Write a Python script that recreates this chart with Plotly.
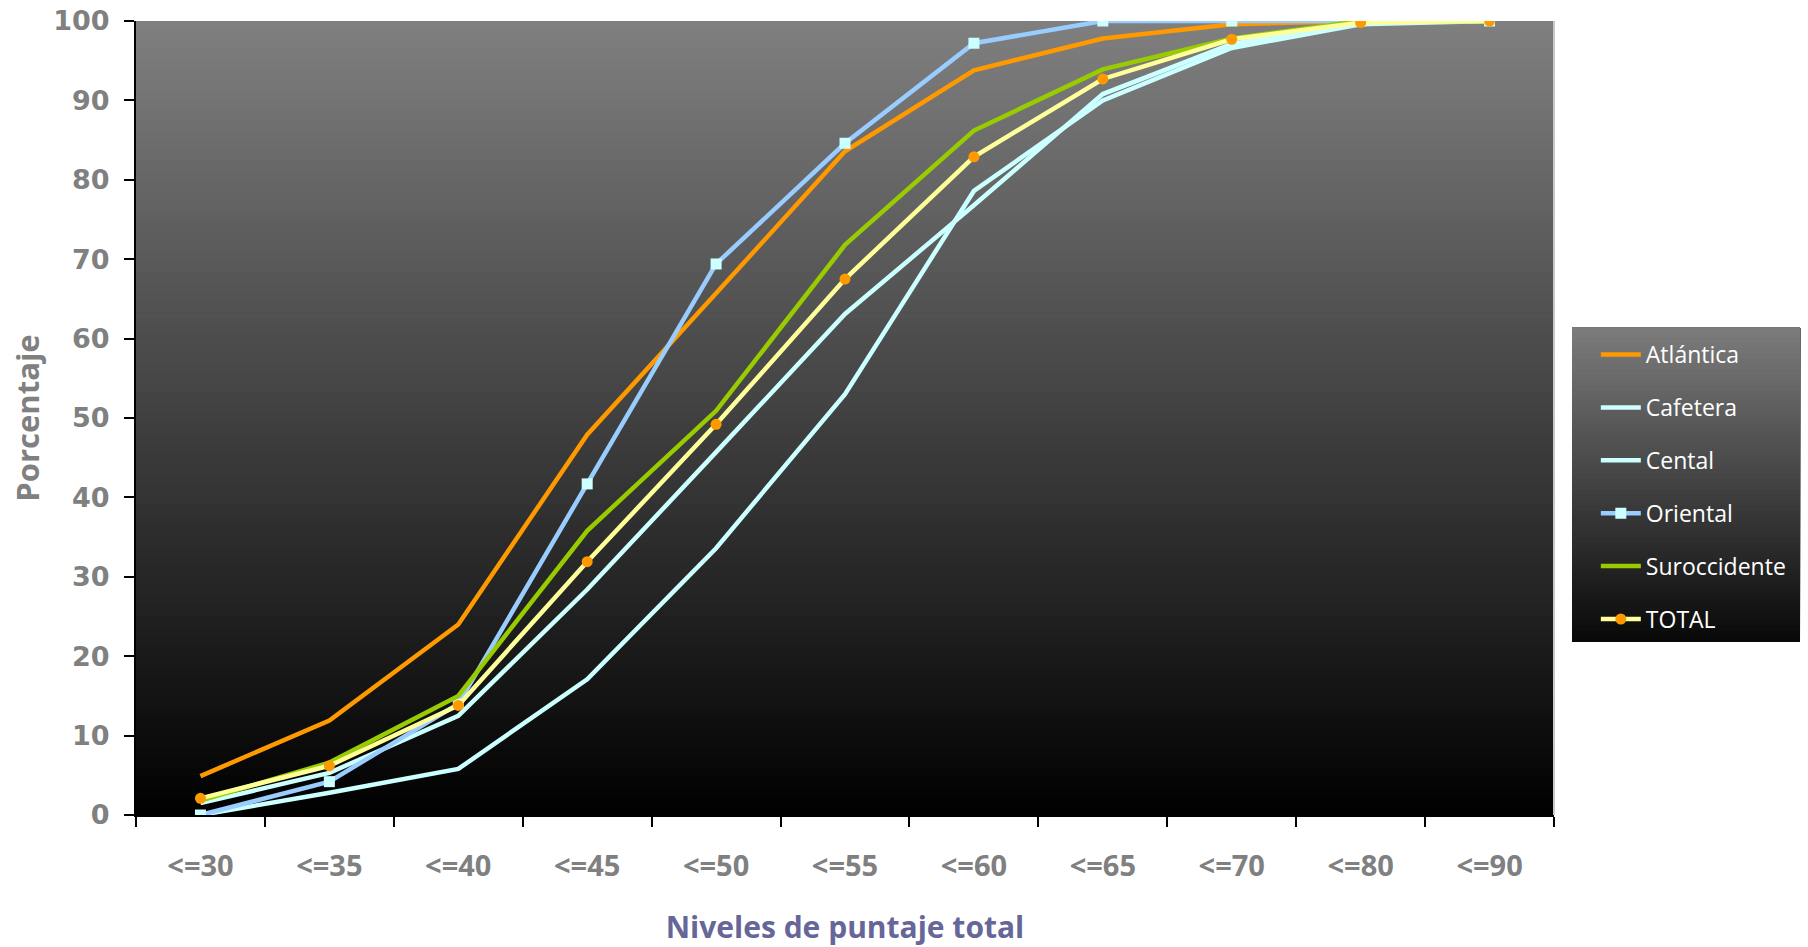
import plotly.graph_objects as go

categories = ["<=30", "<=35", "<=40", "<=45", "<=50", "<=55", "<=60", "<=65", "<=70", "<=80", "<=90"]

atlantica    = [4.9, 11.9, 24.0, 47.9, 65.7, 83.6, 93.8, 97.8, 99.6, 100, 100]
cafetera     = [0.0, 2.8, 5.8, 17.1, 33.6, 53.0, 78.6, 90.0, 96.6, 99.6, 100]
cental       = [1.5, 5.3, 12.5, 28.4, 45.7, 63.1, 76.8, 90.8, 97.1, 99.8, 100]
oriental     = [0.0, 4.2, 14.0, 41.7, 69.4, 84.6, 97.2, 100, 100, 100, 100]
suroccidente = [1.8, 6.6, 15.0, 35.8, 50.9, 71.8, 86.2, 93.9, 97.8, 100, 100]
total        = [2.1, 6.2, 13.8, 31.9, 49.2, 67.5, 82.9, 92.7, 97.7, 99.8, 100]

series = [
    ("Atlántica", atlantica, "#FF9900", None),
    ("Cafetera", cafetera, "#CCFFFF", None),
    ("Cental", cental, "#CCFFFF", None),
    ("Oriental", oriental, "#99CCFF", dict(symbol="square", size=11, color="#CCFFFF")),
    ("Suroccidente", suroccidente, "#99CC00", None),
    ("TOTAL", total, "#FFFF99", dict(symbol="circle", size=11, color="#FF9900")),
]

fig = go.Figure()
for i, (name, vals, col, mk) in enumerate(series):
    fig.add_trace(go.Scatter(
        x=categories, y=vals, name=name,
        mode="lines+markers" if mk else "lines",
        line=dict(color=col, width=4.5),
        marker=mk if mk else None,
        legendgroup=f"g{i}",
    ))

shapes = []
# plot area gradient (black bottom -> gray top); each band covers up to the top
n = 120
for k in range(n):
    y0 = k / n
    v = int(round(128 * (k + 0.5) / n))
    shapes.append(dict(type="rect", xref="paper", yref="paper", x0=0, x1=1, y0=y0, y1=1,
                       fillcolor=f"rgb({v},{v},{v})", line=dict(width=0), layer="below"))
# right border of plot area
shapes.append(dict(type="line", xref="paper", yref="paper", x0=1, x1=1, y0=0, y1=1,
                   line=dict(color="#c8c8c8", width=2), layer="below"))
# legend box gradient
lx0, lx1, ly0, ly1 = 1.0127, 1.1735, 0.218, 0.614
m = 60
for k in range(m):
    y0 = ly0 + (ly1 - ly0) * k / m
    f = (k + 0.5) / m
    v = int(round(8 + (124 - 8) * f))
    shapes.append(dict(type="rect", xref="paper", yref="paper", x0=lx0, x1=lx1, y0=y0, y1=ly1,
                       fillcolor=f"rgb({v},{v},{v})", line=dict(width=0), layer="below"))

fig.update_layout(
    width=1808, height=947,
    margin=dict(l=136, r=254, t=21, b=132),
    paper_bgcolor="white",
    plot_bgcolor="rgba(0,0,0,0)",
    shapes=shapes,
    showlegend=True,
    legend=dict(
        x=1.0295, y=0.607, xanchor="left", yanchor="top",
        bgcolor="rgba(0,0,0,0)",
        font=dict(family="Open Sans", size=23, color="white"),
        tracegroupgap=20,
        itemwidth=40,
    ),
    xaxis=dict(
        type="category", range=[-0.5, 10.5], automargin=False,
        tickson="boundaries", ticks="outside", ticklen=10, tickwidth=2, tickcolor="black",
        showline=True, linecolor="black", linewidth=2, showgrid=False, zeroline=False,
        tickfont=dict(family="Open Sans", size=29, color="#808080", weight="bold"),
        ticklabelstandoff=24,
        title=dict(text="Niveles de puntaje total", standoff=34,
                   font=dict(family="Open Sans", size=30, color="#666699", weight="bold")),
    ),
    yaxis=dict(
        range=[0, 100], dtick=10, automargin=False,
        ticks="outside", ticklen=10, tickwidth=2, tickcolor="black",
        showline=True, linecolor="black", linewidth=2, showgrid=False, zeroline=False,
        tickfont=dict(family="DejaVu Sans", size=27, color="#808080", weight="bold"),
        ticklabelstandoff=9,
        title=dict(text="Porcentaje", standoff=4,
                   font=dict(family="Open Sans", size=31, color="#808080", weight="bold")),
    ),
)

fig.write_html("out.html", config={"displayModeBar": False},
               post_script="document.body.style.margin='0';")
